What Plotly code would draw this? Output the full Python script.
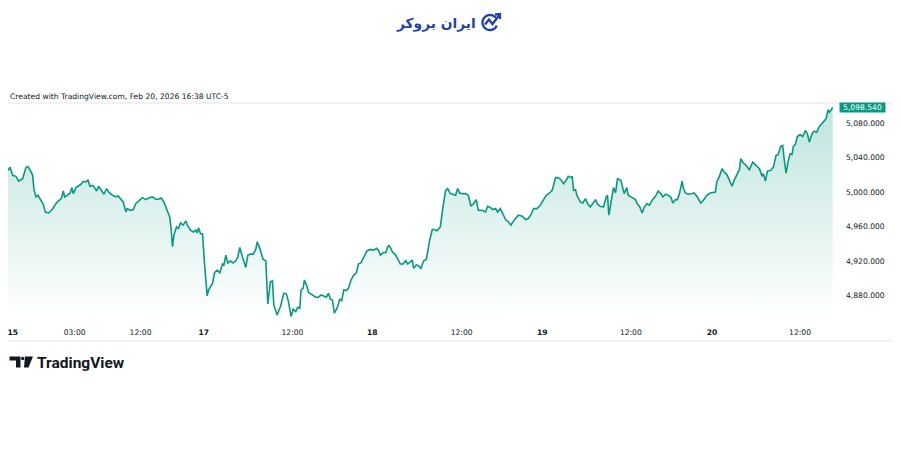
import numpy as np
import plotly.graph_objects as go

# ---------------- data (5-minute bar index, price) ----------------
bars = [0, 3, 7, 12, 16, 22, 27, 30, 34, 37, 39, 42, 45, 49, 53, 56, 61, 67, 72, 76,
        80, 83, 85, 89, 93, 96, 98, 102, 106, 109, 113, 117, 120, 123, 127, 130, 133, 136, 140, 144,
        148, 151, 157, 162, 165, 169, 173, 177, 179, 184, 188, 192, 196, 202, 207, 211, 217, 222, 226, 230,
        234, 239, 243, 245, 247, 249, 253, 256, 259, 263, 267, 270, 274, 278, 282, 284, 286, 289, 292, 295,
        299, 301, 307, 310, 314, 318, 322, 324, 327, 330, 334, 338, 342, 345, 348, 352, 357, 360, 364, 368,
        372, 374, 378, 383, 387, 390, 394, 397, 399, 404, 409, 414, 418, 421, 425, 428, 432, 435, 438, 440,
        443, 445, 449, 451, 457, 462, 466, 470, 474, 478, 481, 484, 487, 490, 494, 498, 501, 504, 508, 511,
        515, 519, 523, 526, 530, 534, 539, 544, 549, 553, 556, 559, 563, 567, 571, 574, 577, 582, 585, 589,
        593, 597, 600, 604, 607, 609, 613, 616, 620, 624, 628, 630, 633, 637, 640, 644, 649, 653, 657, 660,
        664, 668, 672, 675, 678, 682, 687, 691, 695, 699, 703, 706, 712, 717, 720, 724, 728, 732, 735, 739,
        743, 747, 751, 755, 758, 762, 766, 772, 777, 781, 785, 789, 794, 799, 804, 808, 813, 817, 822, 826,
        830, 834, 838, 841, 845, 847, 849, 852, 854, 859, 863, 867, 870, 874, 878, 882, 885, 889, 894, 898,
        900, 902, 905, 909, 912, 915, 920, 923, 925, 929, 931, 937, 942, 945, 948, 952, 955, 959, 963, 967,
        972, 976, 980, 983, 987, 991, 995, 998, 1002, 1005, 1008, 1012, 1014, 1017, 1021, 1027, 1030, 1034, 1040, 1044,
        1049, 1054, 1059, 1062, 1064, 1068, 1072, 1075, 1079, 1083, 1087, 1090, 1094, 1098, 1100, 1104, 1108, 1113, 1118, 1123,
        1128, 1132, 1134, 1137, 1140, 1145, 1149, 1153, 1156, 1160, 1163, 1165, 1168, 1171, 1174, 1177, 1179, 1182, 1185, 1189,
        1193, 1197, 1200, 1203, 1207, 1210, 1214, 1218, 1222, 1225, 1228, 1231, 1233, 1236, 1238]

prices = [5025.4, 5029.0, 5019.7, 5018.5, 5013.0, 5015.8, 5029.0, 5030.0, 5024.6, 5019.7, 5003.0, 4994.6, 4996.5, 4991.5, 4986.0, 4977.0, 4976.0, 4981.0, 4987.0, 4990.0,
          4992.7, 5001.5, 4994.6, 4996.5, 4999.0, 5005.4, 4998.5, 5005.4, 5007.0, 5009.0, 5012.7, 5012.0, 5014.0, 5007.0, 5008.0, 5005.4, 5001.5, 5007.0, 5002.3, 4997.7,
          5004.3, 5000.4, 4996.5, 4994.6, 4996.0, 4992.7, 4988.8, 4977.2, 4981.0, 4979.0, 4980.0, 4987.0, 4990.0, 4993.8, 4991.5, 4993.4, 4994.6, 4992.0, 4992.0, 4993.4,
          4988.8, 4977.2, 4970.7, 4956.0, 4936.8, 4950.3, 4960.0, 4958.0, 4964.5, 4961.9, 4966.8, 4960.7, 4956.0, 4954.0, 4956.0, 4953.0, 4959.0, 4952.0, 4952.0, 4917.6,
          4879.8, 4886.7, 4894.4, 4906.7, 4909.8, 4906.7, 4916.8, 4915.6, 4927.0, 4918.0, 4920.6, 4918.0, 4920.6, 4925.0, 4936.0, 4925.0, 4912.8, 4927.0, 4928.3, 4928.3,
          4933.7, 4942.5, 4935.0, 4922.0, 4920.6, 4870.5, 4896.3, 4897.5, 4869.4, 4857.8, 4867.5, 4882.9, 4882.0, 4873.2, 4856.0, 4864.4, 4861.6, 4866.7, 4865.6, 4886.7,
          4888.6, 4898.3, 4890.6, 4884.0, 4881.0, 4878.3, 4878.3, 4881.0, 4879.8, 4878.3, 4883.0, 4876.0, 4875.2, 4859.8, 4865.6, 4876.0, 4874.4, 4886.7, 4886.0, 4888.6,
          4898.3, 4904.0, 4906.7, 4916.8, 4918.3, 4925.2, 4932.2, 4933.7, 4933.0, 4935.0, 4933.0, 4927.2, 4929.8, 4929.8, 4938.7, 4936.0, 4931.0, 4927.2, 4922.2, 4916.8,
          4916.8, 4920.6, 4916.8, 4919.0, 4921.4, 4911.8, 4915.6, 4914.8, 4911.8, 4920.6, 4922.2, 4931.0, 4944.5, 4956.9, 4956.9, 4955.3, 4959.9, 4983.0, 5002.3, 5004.3,
          4998.5, 4997.7, 4996.5, 5004.3, 4999.2, 4998.5, 4998.5, 4996.5, 4983.8, 4987.0, 4991.5, 4979.2, 4979.2, 4977.2, 4983.8, 4982.3, 4980.0, 4981.2, 4977.2, 4981.2,
          4975.4, 4968.4, 4965.7, 4961.9, 4965.7, 4969.6, 4973.4, 4972.3, 4968.4, 4969.6, 4974.0, 4981.2, 4981.0, 4985.0, 4990.8, 4996.5, 4999.2, 5002.3, 5017.0, 5017.0,
          5014.6, 5010.0, 5014.0, 5018.5, 5017.0, 5018.5, 5002.3, 5003.0, 4996.5, 4988.8, 4987.6, 4992.7, 4987.0, 4983.0, 4987.0, 4991.5, 4986.1, 4983.8, 4983.0, 4994.6,
          4996.5, 4973.4, 4987.0, 5005.4, 4999.2, 5015.8, 5013.9, 5006.2, 4998.5, 5005.4, 4996.5, 4993.8, 4991.5, 4986.1, 4983.8, 4976.0, 4982.3, 4987.0, 4985.0, 4990.8,
          4995.4, 5001.5, 4998.5, 4994.6, 4997.7, 4996.5, 4994.6, 4987.6, 4991.5, 4991.5, 4998.5, 5013.0, 5004.3, 4999.2, 4997.7, 4998.5, 4999.2, 4995.4, 4987.6, 4990.8,
          4996.5, 4999.2, 5000.4, 5000.4, 5012.0, 5018.5, 5027.4, 5023.5, 5020.8, 5013.9, 5007.0, 5013.9, 5019.7, 5026.2, 5038.9, 5033.9, 5031.2, 5026.2, 5035.0, 5031.2,
          5027.4, 5018.5, 5021.6, 5013.0, 5024.6, 5025.4, 5029.2, 5042.8, 5043.6, 5053.2, 5054.3, 5040.0, 5022.3, 5035.0, 5044.7, 5043.9, 5053.2, 5055.5, 5064.7, 5067.0,
          5064.7, 5071.7, 5067.8, 5058.3, 5067.8, 5070.9, 5069.7, 5076.3, 5079.4, 5082.4, 5085.2, 5095.6, 5092.8, 5095.6, 5098.54]

tick_bars = [7, 100, 199, 294, 427, 547, 681, 802, 935, 1057, 1189]
tick_labels = ["<b>15</b>", "03:00", "12:00", "<b>17</b>", "12:00", "<b>18</b>",
               "12:00", "<b>19</b>", "12:00", "<b>20</b>", "12:00"]
price_ticks = [4880, 4920, 4960, 5000, 5040, 5080]
last_price = prices[-1]
y_min, y_max = 4854.2, 5102.4
x_min, x_max = 0, 1243

caption = "Created with TradingView.com, Feb 20, 2026 16:38 UTC-5"
brand = "ایران بروکر"

# ---------------- layout helpers ----------------
# page body has an 8px margin, so the figure is 16px smaller and offset by 8px
OFF = 8
W, H = 900 - 2 * OFF, 471 - 2 * OFF
def fx(p):
    return (p - OFF) / W
def fy(p):
    return 1 - (p - OFF) / H

GREEN = "#089981"
TXT = "#131722"
FONT = "DejaVu Sans"

fig = go.Figure()
fig.add_trace(go.Scatter(
    x=bars, y=prices, mode="lines",
    line=dict(color=GREEN, width=1.6),
    fill="tozeroy",
    fillgradient=dict(type="vertical",
                      colorscale=[[0, "rgba(8,153,129,0.0)"], [1, "rgba(8,153,129,0.26)"]],
                      start=y_min, stop=last_price),
    hoverinfo="skip",
))

fig.update_layout(
    template="none",
    width=W, height=H,
    margin=dict(l=0, r=0, t=0, b=0),
    paper_bgcolor="white", plot_bgcolor="white",
    showlegend=False,
    font=dict(family=FONT, size=7.6, color=TXT),
    xaxis=dict(domain=[0, fx(836)], range=[x_min, x_max],
               tickmode="array", tickvals=tick_bars, ticktext=tick_labels,
               showgrid=False, zeroline=False, showline=False, ticks="",
               automargin=False, ticklabelstandoff=8, ticklabeloverflow="allow",
               tickfont=dict(family=FONT, size=7.6, color=TXT)),
    yaxis=dict(domain=[fy(318), fy(104)], range=[y_min, y_max], side="right",
               tickmode="array", tickvals=price_ticks, tickformat=",.3f",
               showgrid=False, zeroline=False, showline=False, ticks="",
               automargin=False, ticklabelstandoff=9,
               tickfont=dict(family=FONT, size=7.6, color=TXT)),
)

shapes = []
# chart frame
shapes.append(dict(type="rect", xref="paper", yref="paper",
                   x0=fx(7.5), x1=fx(893), y0=fy(341), y1=fy(103),
                   line=dict(color="#e4e6ec", width=1), fillcolor="rgba(0,0,0,0)", layer="below"))

def pline(points, close=False):
    s = "M " + " L ".join(f"{fx(px):.5f},{fy(py):.5f}" for px, py in points)
    return s + (" Z" if close else "")

# brand icon: open circle + zigzag arrow
BLUE = "#1f3fb3"
cx, cy, r = 490, 22.5, 7.5
ang = np.linspace(np.deg2rad(40), np.deg2rad(40 + 295), 40)
pts = [(cx + r * np.cos(a), cy - r * np.sin(a)) for a in ang]
shapes.append(dict(type="path", xref="paper", yref="paper", path=pline(pts),
                   line=dict(color=BLUE, width=2.3)))
shapes.append(dict(type="path", xref="paper", yref="paper",
                   path=pline([(485, 24.5), (489, 19.5), (492.5, 24), (499, 15.5)]),
                   line=dict(color=BLUE, width=2.3)))
shapes.append(dict(type="path", xref="paper", yref="paper",
                   path=pline([(495, 14.5), (500, 14.0), (500, 19.0)]),
                   line=dict(color=BLUE, width=2.3)))

# TradingView logo mark
DARK = "#131722"
shapes.append(dict(type="path", xref="paper", yref="paper",
                   path=pline([(9.5, 356.5), (20.5, 356.5), (20.5, 367.5), (16, 367.5), (16, 360.5), (9.5, 360.5)], True),
                   fillcolor=DARK, line=dict(width=0)))
shapes.append(dict(type="circle", xref="paper", yref="paper",
                   x0=fx(21), x1=fx(24.4), y0=fy(360.2), y1=fy(356.8),
                   fillcolor=DARK, line=dict(width=0)))
shapes.append(dict(type="path", xref="paper", yref="paper",
                   path=pline([(25, 356.5), (33, 356.5), (28.5, 367.5), (24, 367.5)], True),
                   fillcolor=DARK, line=dict(width=0)))

fig.update_layout(shapes=shapes)

annotations = [
    dict(text=caption, xref="paper", yref="paper", x=fx(8), y=fy(96.5),
         xanchor="left", yanchor="middle", showarrow=False,
         font=dict(family=FONT, size=7.6, color=TXT)),
    dict(text=f"{last_price:,.3f}", xref="paper", yref="y", x=fx(839), y=last_price,
         xanchor="left", yanchor="middle", showarrow=False,
         bgcolor=GREEN, width=45, height=9, borderpad=0, align="center",
         font=dict(family=FONT, size=7.6, color="white")),
    dict(text=f"<b>{brand}</b>", xref="paper", yref="paper", x=fx(435.5), y=fy(24),
         xanchor="center", yanchor="middle", showarrow=False,
         font=dict(family=FONT, size=13.8, color=BLUE)),
    dict(text="<b>TradingView</b>", xref="paper", yref="paper", x=fx(35), y=fy(362.5),
         xanchor="left", yanchor="middle", showarrow=False,
         font=dict(family="Roboto", size=15.5, color=DARK)),
]
fig.update_layout(annotations=annotations)

fig.write_html("out.html")
